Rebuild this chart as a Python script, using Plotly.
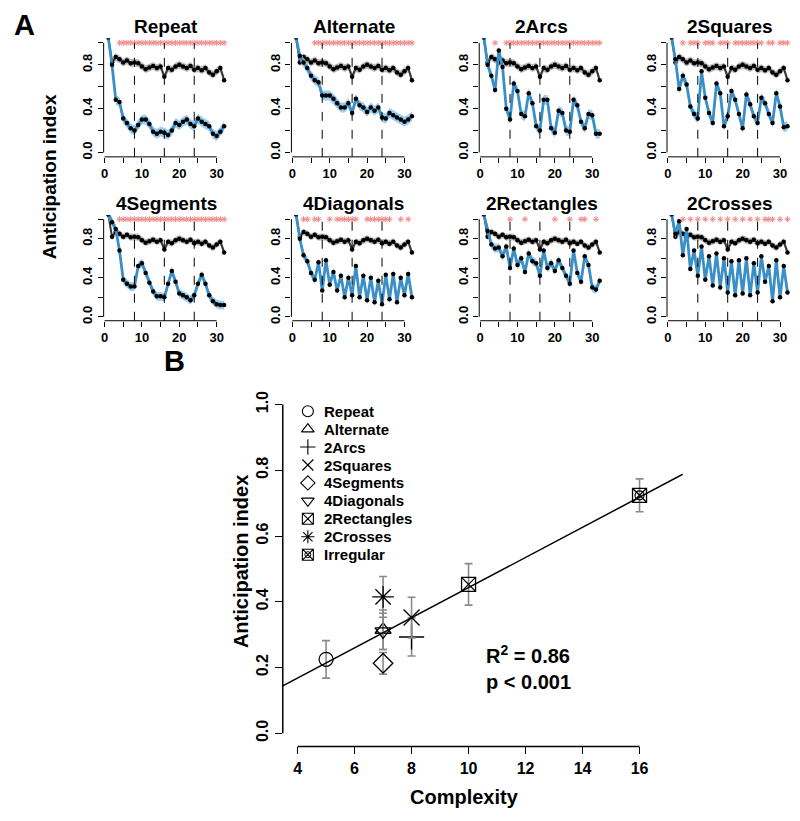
import numpy as np
import plotly.graph_objects as go

FONT = "Liberation Sans"
BLUE = "#3a8fc6"
BLUE_BAND = "rgba(140,196,232,0.85)"
GRAY_BAND = "rgba(150,150,150,0.65)"
STAR = "#f08a8a"

# ---- panel A data (anticipation index per trial) ----
trials = list(range(1, 33))

control = [1.05, 0.82, 0.87, 0.85, 0.82, 0.84, 0.815, 0.82, 0.815, 0.785, 0.76, 0.775,
           0.79, 0.77, 0.785, 0.69, 0.77, 0.755, 0.785, 0.80, 0.785, 0.77, 0.79, 0.755,
           0.77, 0.75, 0.77, 0.73, 0.71, 0.74, 0.77, 0.66]

repeat = [1.05, 0.80, 0.48, 0.46, 0.31, 0.27, 0.22, 0.20, 0.25, 0.30, 0.30, 0.26,
          0.19, 0.17, 0.19, 0.18, 0.16, 0.20, 0.27, 0.25, 0.28, 0.30, 0.26, 0.24,
          0.31, 0.28, 0.26, 0.24, 0.17, 0.15, 0.19, 0.24]
alternate = [1.05, 0.88, 0.82, 0.77, 0.70, 0.66, 0.64, 0.52, 0.52, 0.52, 0.49, 0.45,
             0.41, 0.41, 0.45, 0.36, 0.49, 0.43, 0.41, 0.37, 0.41, 0.38, 0.41, 0.32,
             0.31, 0.36, 0.34, 0.32, 0.30, 0.28, 0.30, 0.33]
arcs2 = [1.05, 0.80, 0.70, 0.57, 0.93, 0.78, 0.40, 0.30, 0.63, 0.56, 0.35, 0.33,
         0.54, 0.45, 0.24, 0.20, 0.48, 0.48, 0.22, 0.18, 0.38, 0.36, 0.20, 0.19,
         0.48, 0.43, 0.28, 0.22, 0.35, 0.34, 0.17, 0.17]
squares2 = [1.05, 0.85, 0.58, 0.70, 0.62, 0.42, 0.35, 0.31, 0.74, 0.50, 0.36, 0.27,
            0.63, 0.54, 0.24, 0.33, 0.56, 0.48, 0.35, 0.22, 0.53, 0.44, 0.33, 0.27,
            0.50, 0.45, 0.35, 0.27, 0.54, 0.42, 0.23, 0.24]
segments4 = [1.05, 0.97, 0.90, 0.68, 0.38, 0.34, 0.31, 0.31, 0.52, 0.55, 0.45, 0.35,
             0.26, 0.21, 0.21, 0.20, 0.34, 0.47, 0.36, 0.24, 0.22, 0.20, 0.17, 0.22,
             0.34, 0.43, 0.34, 0.22, 0.16, 0.13, 0.12, 0.12]
diagonals4 = [1.05, 0.80, 0.63, 0.57, 0.45, 0.38, 0.56, 0.27, 0.58, 0.33, 0.46, 0.27,
              0.42, 0.20, 0.40, 0.22, 0.52, 0.20, 0.42, 0.17, 0.40, 0.15, 0.37, 0.13,
              0.43, 0.18, 0.44, 0.15, 0.40, 0.22, 0.44, 0.20]
rectangles2 = [1.05, 0.88, 0.74, 0.70, 0.71, 0.62, 0.72, 0.50, 0.70, 0.53, 0.60, 0.46,
               0.65, 0.57, 0.55, 0.42, 0.68, 0.50, 0.55, 0.47, 0.58, 0.50, 0.42, 0.34,
               0.68, 0.45, 0.36, 0.62, 0.53, 0.30, 0.28, 0.37]
crosses2 = [1.05, 0.85, 0.98, 0.63, 0.90, 0.49, 0.68, 0.42, 0.72, 0.38, 0.62, 0.32,
            0.65, 0.30, 0.60, 0.25, 0.57, 0.22, 0.58, 0.24, 0.60, 0.22, 0.55, 0.25,
            0.62, 0.36, 0.52, 0.16, 0.58, 0.20, 0.52, 0.25]

sem_control = 0.035
sem_pattern = 0.045

# trials with a significant difference (red asterisks)
sig_repeat = list(range(4, 33))
sig_alternate = list(range(6, 33))
sig_arcs2 = [4] + list(range(7, 33))
sig_squares2 = [4, 6, 7, 8, 10, 11, 12, 14, 15, 16, 18, 19, 20, 21, 22, 23, 24, 25,
                27, 28, 30, 31, 32]
sig_segments4 = list(range(4, 33))
sig_diagonals4 = [3, 4, 6, 7, 10, 12, 13, 14, 15, 16, 17, 20, 21, 22, 23, 24, 25, 26, 29, 31]
sig_rectangles2 = [8, 12, 20, 24, 27, 28, 31]
sig_crosses2 = [4, 6, 8, 10, 12, 14, 16, 18, 20, 22, 24, 26, 27, 28, 30, 32]

panels = [
    ("Repeat", repeat, sig_repeat),
    ("Alternate", alternate, sig_alternate),
    ("2Arcs", arcs2, sig_arcs2),
    ("2Squares", squares2, sig_squares2),
    ("4Segments", segments4, sig_segments4),
    ("4Diagonals", diagonals4, sig_diagonals4),
    ("2Rectangles", rectangles2, sig_rectangles2),
    ("2Crosses", crosses2, sig_crosses2),
]
boundaries = [8, 16, 24]

# ---- panel B data ----
patterns = ["Repeat", "Alternate", "2Arcs", "2Squares", "4Segments", "4Diagonals",
            "2Rectangles", "2Crosses", "Irregular"]
complexity = [5, 7, 8, 8, 7, 7, 10, 7, 16]
anticipation = [0.225, 0.315, 0.293, 0.352, 0.213, 0.31, 0.453, 0.415, 0.724]
anticipation_sem = [0.057, 0.06, 0.058, 0.062, 0.033, 0.055, 0.063, 0.062, 0.05]
symbols = ["circle-open", "triangle-up-open", "cross-thin-open", "x-thin-open",
           "diamond-open", "triangle-down-open", "square-x-open", "asterisk-open",
           "square-x-open"]
sizes = [14, 14, 18, 16, 15, 14, 14, 18, 14]

# page is drawn with the browser's 8px body margin
OFF = 8
W, H = 800 - OFF, 821 - OFF
col_left = [101, 289.5, 478, 666.5]
panel_w = 125.6
row_top = [38.6, 216.1]
row_bot = [157.4, 321.9]


def dom_x(a, b):
    return [(a - OFF) / W, (b - OFF) / W]


def dom_y(top, bot):
    return [1 - (bot - OFF) / H, 1 - (top - OFF) / H]


def px(x, y):
    return (x - OFF) / W, 1 - (y - OFF) / H


tickfont = dict(family=FONT, size=13, color="black", weight="bold")
fig = go.Figure()
shapes = []
annotations = []
layout = {}

for k, (name, vals, sig) in enumerate(panels):
    s = "" if k == 0 else str(k + 1)
    xa, ya = "x" + s, "y" + s
    r, c = divmod(k, 4)
    vals = np.array(vals)
    ctrl = np.array(control)

    fig.add_trace(go.Scatter(x=trials + trials[::-1],
                             y=list(ctrl + sem_control) + list((ctrl - sem_control)[::-1]),
                             fill="toself", fillcolor=GRAY_BAND, line=dict(width=0),
                             hoverinfo="skip", showlegend=False, xaxis=xa, yaxis=ya))
    fig.add_trace(go.Scatter(x=trials, y=control, mode="lines+markers",
                             line=dict(color="#383838", width=2),
                             marker=dict(color="black", size=4.5),
                             showlegend=False, xaxis=xa, yaxis=ya))
    fig.add_trace(go.Scatter(x=trials + trials[::-1],
                             y=list(vals + sem_pattern) + list((vals - sem_pattern)[::-1]),
                             fill="toself", fillcolor=BLUE_BAND, line=dict(width=0),
                             hoverinfo="skip", showlegend=False, xaxis=xa, yaxis=ya))
    fig.add_trace(go.Scatter(x=trials, y=vals, mode="lines+markers",
                             line=dict(color=BLUE, width=2.8),
                             marker=dict(color="black", size=4.5),
                             showlegend=False, xaxis=xa, yaxis=ya))
    fig.add_trace(go.Scatter(x=sig, y=[1.0] * len(sig), mode="markers",
                             marker=dict(symbol="asterisk-open", size=5, color=STAR,
                                         line=dict(color=STAR, width=1)),
                             showlegend=False, xaxis=xa, yaxis=ya))

    left = col_left[c]
    layout["xaxis" + s] = dict(domain=dom_x(left, left + panel_w), range=[-0.24, 33.24],
                               tickvals=[0, 5, 10, 15, 20, 25, 30],
                               ticktext=["0", " ", "10", " ", "20", " ", "30"],
                               ticks="outside", ticklen=5, tickcolor="black",
                               showgrid=False, zeroline=False, showline=False,
                               tickfont=tickfont, anchor=ya)
    layout["yaxis" + s] = dict(domain=dom_y(row_top[r], row_bot[r]), range=[-0.04, 1.04],
                               tickvals=[0, 0.2, 0.4, 0.6, 0.8, 1.0],
                               ticktext=["0.0", " ", "0.4", " ", "0.8", " "],
                               tickangle=-90, ticks="outside", ticklen=5, tickcolor="black",
                               showgrid=False, zeroline=False, showline=False,
                               tickfont=tickfont, anchor=xa)
    shapes.append(dict(type="line", xref=xa, yref=ya + " domain", x0=0, x1=30, y0=0, y1=0,
                       line=dict(color="black", width=1)))
    shapes.append(dict(type="line", xref=xa + " domain", yref=ya, x0=0, x1=0, y0=0, y1=1,
                       line=dict(color="black", width=1)))
    for b in boundaries:
        shapes.append(dict(type="line", xref=xa, yref=ya + " domain", x0=b, x1=b, y0=0,
                           y1=0.96, line=dict(color="black", width=1, dash="dash")))
    tx, ty = px(left + panel_w / 2, row_top[r] - 12)
    annotations.append(dict(text=name, x=tx, y=ty,
                            font=dict(family=FONT, size=19, color="black", weight="bold")))

# ---- panel B ----
xb, yb = "x9", "y9"
for i, p in enumerate(patterns):
    fig.add_trace(go.Scatter(x=[complexity[i]], y=[anticipation[i]], mode="markers", name=p,
                             error_y=dict(type="data", array=[anticipation_sem[i]],
                                          color="#8a8a8a", thickness=1.6, width=4),
                             marker=dict(symbol=symbols[i], size=sizes[i], color="black",
                                         line=dict(color="black", width=1.3)),
                             showlegend=False, xaxis=xb, yaxis=yb))
# extra circle in the Irregular symbol
fig.add_trace(go.Scatter(x=[complexity[-1]], y=[anticipation[-1]], mode="markers",
                         marker=dict(symbol="circle-open", size=9, color="black",
                                     line=dict(color="black", width=1.2)),
                         showlegend=False, xaxis=xb, yaxis=yb))

slope, intercept = np.polyfit(complexity, anticipation, 1)
xr = [3.48, 17.52]
fig.add_trace(go.Scatter(x=xr, y=[intercept + slope * v for v in xr], mode="lines",
                         line=dict(color="black", width=1.5), showlegend=False,
                         hoverinfo="skip", xaxis=xb, yaxis=yb))

tickfont_b = dict(family=FONT, size=16, color="black", weight="bold")
layout["xaxis9"] = dict(domain=dom_x(280.8, 682.4), range=xr,
                        tickvals=[4, 6, 8, 10, 12, 14, 16], ticks="outside", ticklen=7,
                        tickcolor="black", showgrid=False, zeroline=False, showline=False,
                        tickfont=tickfont_b, anchor=yb)
layout["yaxis9"] = dict(domain=dom_y(392.8, 749.2), range=[-0.04, 1.04],
                        tickvals=[0, 0.2, 0.4, 0.6, 0.8, 1.0],
                        ticktext=["0.0", "0.2", "0.4", "0.6", "0.8", "1.0"],
                        tickangle=-90, ticks="outside", ticklen=7, tickcolor="black",
                        showgrid=False, zeroline=False, showline=False,
                        tickfont=tickfont_b, anchor=xb)
shapes.append(dict(type="line", xref=xb, yref=yb + " domain", x0=4, x1=16, y0=0, y1=0,
                   line=dict(color="black", width=1.5)))
shapes.append(dict(type="line", xref=xb + " domain", yref=yb, x0=0, x1=0, y0=0, y1=1,
                   line=dict(color="black", width=1.5)))

# ---- legend of panel B, one row per pattern ----
entry = list(range(len(patterns)))
fig.add_trace(go.Scatter(x=[0.5] * len(patterns), y=entry, mode="markers",
                         marker=dict(symbol=symbols, size=11, color="black",
                                     line=dict(color="black", width=1.1)),
                         showlegend=False, hoverinfo="skip", cliponaxis=False,
                         xaxis="x10", yaxis="y10"))
fig.add_trace(go.Scatter(x=[0.5], y=[entry[-1]], mode="markers",
                         marker=dict(symbol="circle-open", size=6, color="black",
                                     line=dict(color="black", width=1)),
                         showlegend=False, hoverinfo="skip", cliponaxis=False,
                         xaxis="x10", yaxis="y10"))
layout["xaxis10"] = dict(domain=dom_x(296, 316), range=[0, 1], visible=False, anchor="y10")
layout["yaxis10"] = dict(domain=dom_y(403.7, 565.7), range=[len(patterns) - 0.5, -0.5],
                         visible=False, anchor="x10")
for i, p in enumerate(patterns):
    annotations.append(dict(text=p, xref="x10", yref="y10", x=1, y=i, xanchor="left",
                            xshift=4, font=dict(family=FONT, size=15, color="black",
                                                weight="bold")))

big = dict(family=FONT, size=29, color="black", weight="bold")
lab = dict(family=FONT, size=19, color="black", weight="bold")
lab_b = dict(family=FONT, size=20, color="black", weight="bold")
for text, (x, y), font, extra in [
    ("A", (22, 25), big, {}),
    ("B", (172, 362), big, {}),
    ("Anticipation index", (47, 177), lab, dict(textangle=-90)),
    ("Anticipation index", (239, 564), lab_b, dict(textangle=-90)),
    ("Complexity", (463, 800), lab_b, {}),
    ("R<sup>2</sup> = 0.86", (483, 657), lab_b, dict(xanchor="left")),
    ("p < 0.001", (483, 684), lab_b, dict(xanchor="left")),
]:
    ax_, ay_ = px(x, y)
    annotations.append(dict(text=text, x=ax_, y=ay_, font=font, **extra))

for a in annotations:
    a.setdefault("xref", "paper")
    a.setdefault("yref", "paper")
    a.setdefault("showarrow", False)
    a.setdefault("xanchor", "center")
    a.setdefault("yanchor", "middle")

fig.update_layout(
    width=W, height=H, margin=dict(l=0, r=0, t=0, b=0),
    paper_bgcolor="white", plot_bgcolor="white", showlegend=False,
    shapes=shapes, annotations=annotations,
    **layout,
)

fig.write_html("out.html")
